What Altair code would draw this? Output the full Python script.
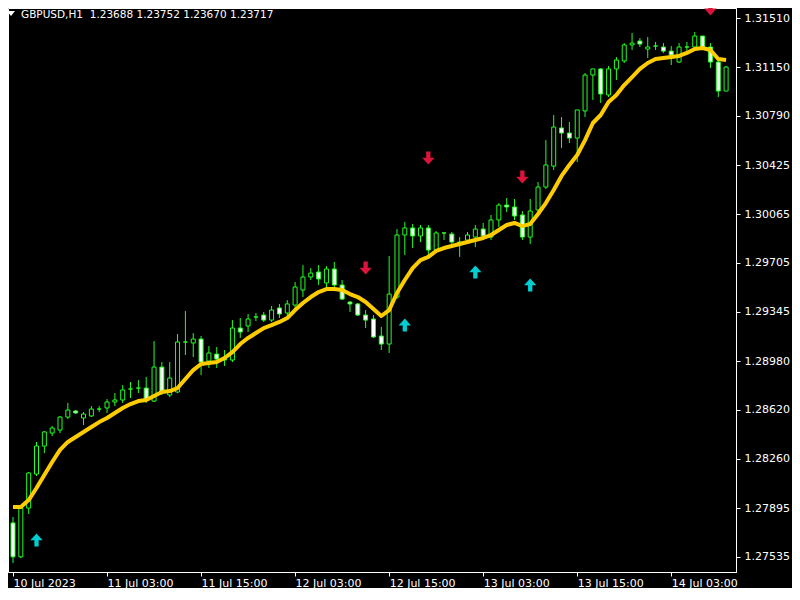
import json
import pandas as pd
import altair as alt

# ---------------- data ----------------
# one bar per hour, bar 0 = 10 Jul 2023 15:00
bar_idx = list(range(92))

opens = [1.27785, 1.27535, 1.27895, 1.28146, 1.28353, 1.28449, 1.28471, 1.28567, 1.28612, 1.28560,
         1.28575, 1.28626, 1.28634, 1.28678, 1.28693, 1.28774, 1.28781, 1.28781, 1.28685, 1.28936,
         1.28730, 1.28752, 1.29121, 1.29114, 1.29143, 1.28981, 1.29032, 1.28995, 1.28988, 1.29224,
         1.29239, 1.29306, 1.29320, 1.29283, 1.29372, 1.29335, 1.29394, 1.29505, 1.29601, 1.29638,
         1.29557, 1.29660, 1.29542, 1.29416, 1.29402, 1.29320, 1.29291, 1.29165, 1.29106, 1.29453,
         1.29911, 1.29963, 1.29904, 1.29963, 1.29800, 1.29926, 1.29918, 1.29859, 1.29874, 1.29896,
         1.29955, 1.29896, 1.30022, 1.30132, 1.30118, 1.30059, 1.29896, 1.30096, 1.30265, 1.30420,
         1.30701, 1.30664, 1.30627, 1.30827, 1.31092, 1.31137, 1.30945, 1.31137, 1.31196, 1.31314,
         1.31343, 1.31284, 1.31306, 1.31299, 1.31269, 1.31188, 1.31299, 1.31299, 1.31380, 1.31299,
         1.31188, 1.30974]

highs = [1.27829, 1.27903, 1.28161, 1.28383, 1.28464, 1.28501, 1.28575, 1.28671, 1.28619, 1.28604,
         1.28648, 1.28648, 1.28700, 1.28744, 1.28803, 1.28826, 1.28840, 1.28863, 1.29128, 1.28973,
         1.28973, 1.29180, 1.29350, 1.29187, 1.29165, 1.29091, 1.29084, 1.29062, 1.29283, 1.29298,
         1.29328, 1.29335, 1.29343, 1.29387, 1.29402, 1.29431, 1.29564, 1.29689, 1.29667, 1.29689,
         1.29682, 1.29712, 1.29579, 1.29424, 1.29409, 1.29357, 1.29320, 1.29232, 1.29756, 1.29955,
         1.30007, 1.29992, 1.29985, 1.29985, 1.29940, 1.29933, 1.29933, 1.29896, 1.29933, 1.29985,
         1.30000, 1.30059, 1.30147, 1.30184, 1.30177, 1.30088, 1.30177, 1.30302, 1.30612, 1.30797,
         1.30782, 1.30745, 1.30834, 1.31107, 1.31137, 1.31144, 1.31159, 1.31225, 1.31328, 1.31402,
         1.31365, 1.31373, 1.31336, 1.31328, 1.31306, 1.31328, 1.31336, 1.31410, 1.31380, 1.31328,
         1.31203, 1.31159]

lows = [1.27489, 1.27526, 1.27851, 1.28132, 1.28301, 1.28427, 1.28449, 1.28553, 1.28589, 1.28508,
        1.28567, 1.28604, 1.28597, 1.28648, 1.28671, 1.28708, 1.28744, 1.28671, 1.28678, 1.28730,
        1.28715, 1.28744, 1.29025, 1.29010, 1.28877, 1.28929, 1.28929, 1.28944, 1.28973, 1.29151,
        1.29195, 1.29276, 1.29269, 1.29269, 1.29298, 1.29313, 1.29372, 1.29453, 1.29579, 1.29542,
        1.29505, 1.29505, 1.29431, 1.29343, 1.29313, 1.29224, 1.29151, 1.29062, 1.29040, 1.29438,
        1.29763, 1.29815, 1.29859, 1.29763, 1.29785, 1.29874, 1.29845, 1.29749, 1.29845, 1.29822,
        1.29874, 1.29874, 1.29970, 1.30081, 1.30022, 1.29874, 1.29845, 1.30081, 1.30251, 1.30391,
        1.30553, 1.30590, 1.30450, 1.30782, 1.30908, 1.30886, 1.30930, 1.31055, 1.31181, 1.31277,
        1.31299, 1.31218, 1.31277, 1.31255, 1.31166, 1.31181, 1.31262, 1.31299, 1.31292, 1.31144,
        1.30930, 1.30974]

closes = [1.27535, 1.27895, 1.28154, 1.28353, 1.28457, 1.28486, 1.28567, 1.28619, 1.28597, 1.28589,
          1.28626, 1.28626, 1.28678, 1.28693, 1.28767, 1.28774, 1.28781, 1.28693, 1.28936, 1.28752,
          1.28855, 1.29121, 1.29121, 1.29143, 1.28973, 1.29040, 1.28995, 1.28988, 1.29224, 1.29195,
          1.29291, 1.29306, 1.29283, 1.29357, 1.29328, 1.29402, 1.29527, 1.29601, 1.29630, 1.29586,
          1.29660, 1.29542, 1.29438, 1.29402, 1.29320, 1.29283, 1.29158, 1.29106, 1.29475, 1.29911,
          1.29963, 1.29904, 1.29963, 1.29800, 1.29926, 1.29926, 1.29859, 1.29852, 1.29911, 1.29955,
          1.29904, 1.30022, 1.30132, 1.30118, 1.30051, 1.29896, 1.30088, 1.30265, 1.30428, 1.30708,
          1.30664, 1.30627, 1.30834, 1.31092, 1.31137, 1.30952, 1.31137, 1.31203, 1.31314, 1.31328,
          1.31321, 1.31299, 1.31306, 1.31269, 1.31240, 1.31299, 1.31299, 1.31380, 1.31299, 1.31188,
          1.30974, 1.31151]

ma_values = [1.27903, 1.27903, 1.27954, 1.28043, 1.28139, 1.28235, 1.28324, 1.28383, 1.28420, 1.28457,
             1.28493, 1.28530, 1.28560, 1.28597, 1.28634, 1.28663, 1.28685, 1.28693, 1.28722, 1.28752,
             1.28759, 1.28781, 1.28848, 1.28914, 1.28959, 1.28966, 1.28973, 1.29003, 1.29047, 1.29106,
             1.29151, 1.29187, 1.29224, 1.29246, 1.29269, 1.29298, 1.29357, 1.29409, 1.29453, 1.29490,
             1.29512, 1.29512, 1.29505, 1.29475, 1.29453, 1.29416, 1.29365, 1.29313, 1.29357, 1.29483,
             1.29579, 1.29667, 1.29726, 1.29749, 1.29793, 1.29815, 1.29830, 1.29845, 1.29859, 1.29874,
             1.29889, 1.29911, 1.29948, 1.29985, 1.30000, 1.29977, 1.29992, 1.30066, 1.30147, 1.30243,
             1.30347, 1.30428, 1.30502, 1.30612, 1.30738, 1.30797, 1.30893, 1.30945, 1.31018, 1.31077,
             1.31137, 1.31181, 1.31210, 1.31218, 1.31225, 1.31233, 1.31255, 1.31284, 1.31292, 1.31277,
             1.31210, 1.31203]

up_idx = [3, 50, 59, 66]
up_price = [1.27659, 1.29246, 1.29638, 1.29542]
down_idx = [45, 53, 65, 89]
down_price = [1.29667, 1.30479, 1.30339, 1.31580]

time_tick_idx = [0, 12, 24, 36, 48, 60, 72, 84]
time_tick_labels = ["10 Jul 2023", "11 Jul 03:00", "11 Jul 15:00", "12 Jul 03:00",
                    "12 Jul 15:00", "13 Jul 03:00", "13 Jul 15:00", "14 Jul 03:00"]
price_ticks = [1.27535, 1.27895, 1.28260, 1.28620, 1.28980, 1.29345,
               1.29705, 1.30065, 1.30425, 1.30790, 1.31150, 1.31510]

header_symbol = "GBPUSD,H1"
header_prices = ["1.23688", "1.23752", "1.23670", "1.23717"]

# ---------------- styling ----------------
FONT = "DejaVu Sans"
GREEN = "#22FF22"
GOLD = "#FFCC00"
RED = "#DC143C"
CYAN = "#00CED1"
UP_PATH = "M0,-1L0.95,0.05L0.33,0.05L0.33,1L-0.33,1L-0.33,0.05L-0.95,0.05Z"
DOWN_PATH = "M0,1L0.95,-0.05L0.33,-0.05L0.33,-1L-0.33,-1L-0.33,-0.05L-0.95,-0.05Z"
TRI_PATH = "M-1,-0.6L1,-0.6L0,0.6Z"

df = pd.DataFrame({"idx": bar_idx, "open": opens, "high": highs,
                   "low": lows, "close": closes, "ma": ma_values})
up_df = pd.DataFrame({"idx": up_idx, "price": up_price})
down_df = pd.DataFrame({"idx": down_idx, "price": down_price})
header_df = pd.DataFrame({"t": [header_symbol + "\u00a0\u00a0" + " ".join(header_prices)]})

x_scale = alt.Scale(domain=[0, 91.625], nice=False, zero=False)
y_scale = alt.Scale(domain=[1.27423, 1.31587], nice=False, zero=False)

label_expr = json.dumps(time_tick_labels) + "[round(datum.value / 12)]"
x_axis = alt.Axis(values=time_tick_idx, labelExpr=label_expr, labelAlign="left",
                  labelBaseline="top", labelPadding=1, labelColor="white", labelFont=FONT,
                  labelFontSize=11, tickColor="white", tickSize=4, domainColor="white",
                  grid=False, labelOverlap=False, labelFlush=False, title=None)
y_axis = alt.Axis(orient="right", values=price_ticks, format=".5f", labelColor="white",
                  labelFont=FONT, labelFontSize=11, tickColor="white", tickSize=4,
                  labelPadding=4, domainColor="white", grid=False, labelOverlap=False,
                  labelFlush=False, title=None)


def X(field="idx"):
    return alt.X(field, type="quantitative", scale=x_scale, axis=x_axis)


def Y(field):
    return alt.Y(field, type="quantitative", scale=y_scale, axis=y_axis)


wicks = alt.Chart(df).mark_rule(color=GREEN, strokeWidth=1, clip=True).encode(
    x=X(), y=Y("low"), y2="high")

bodies = alt.Chart(df).mark_bar(size=4, stroke=GREEN, strokeWidth=1, clip=True).encode(
    x=X(), y=Y("open"), y2="close",
    fill=alt.condition("datum.close < datum.open", alt.value("white"), alt.value("black")))

ma_line = alt.Chart(df).mark_line(color=GOLD, strokeWidth=4, strokeJoin="round",
                                  clip=True).encode(x=X(), y=Y("ma"))

up_arrows = alt.Chart(up_df).mark_point(shape=UP_PATH, size=169, filled=True, opacity=1,
                                        color=CYAN, strokeWidth=0).encode(x=X(), y=Y("price"))
down_arrows = alt.Chart(down_df).mark_point(shape=DOWN_PATH, size=169, filled=True, opacity=1,
                                            color=RED, strokeWidth=0).encode(x=X(), y=Y("price"))

header_tri = alt.Chart(header_df).mark_point(shape=TRI_PATH, size=64, filled=True, opacity=1,
                                             color="white", strokeWidth=0).encode(
    x=alt.value(3), y=alt.value(5.5))
header_text = alt.Chart(header_df).mark_text(align="left", baseline="alphabetic", color="white",
                                             font=FONT, fontSize=10.5).encode(
    x=alt.value(13), y=alt.value(9.5), text="t:N")

chart = alt.layer(wicks, bodies, ma_line, up_arrows, down_arrows, header_tri, header_text).properties(
    width=728, height=564,
    padding={"left": 0, "top": 0, "right": 56, "bottom": 16},
    autosize=alt.AutoSizeParams(type="none"),
).configure(background="black").configure_view(stroke="white", strokeWidth=1, fill="black")

chart.save("out.html", embed_options={"renderer": "svg", "actions": False})
